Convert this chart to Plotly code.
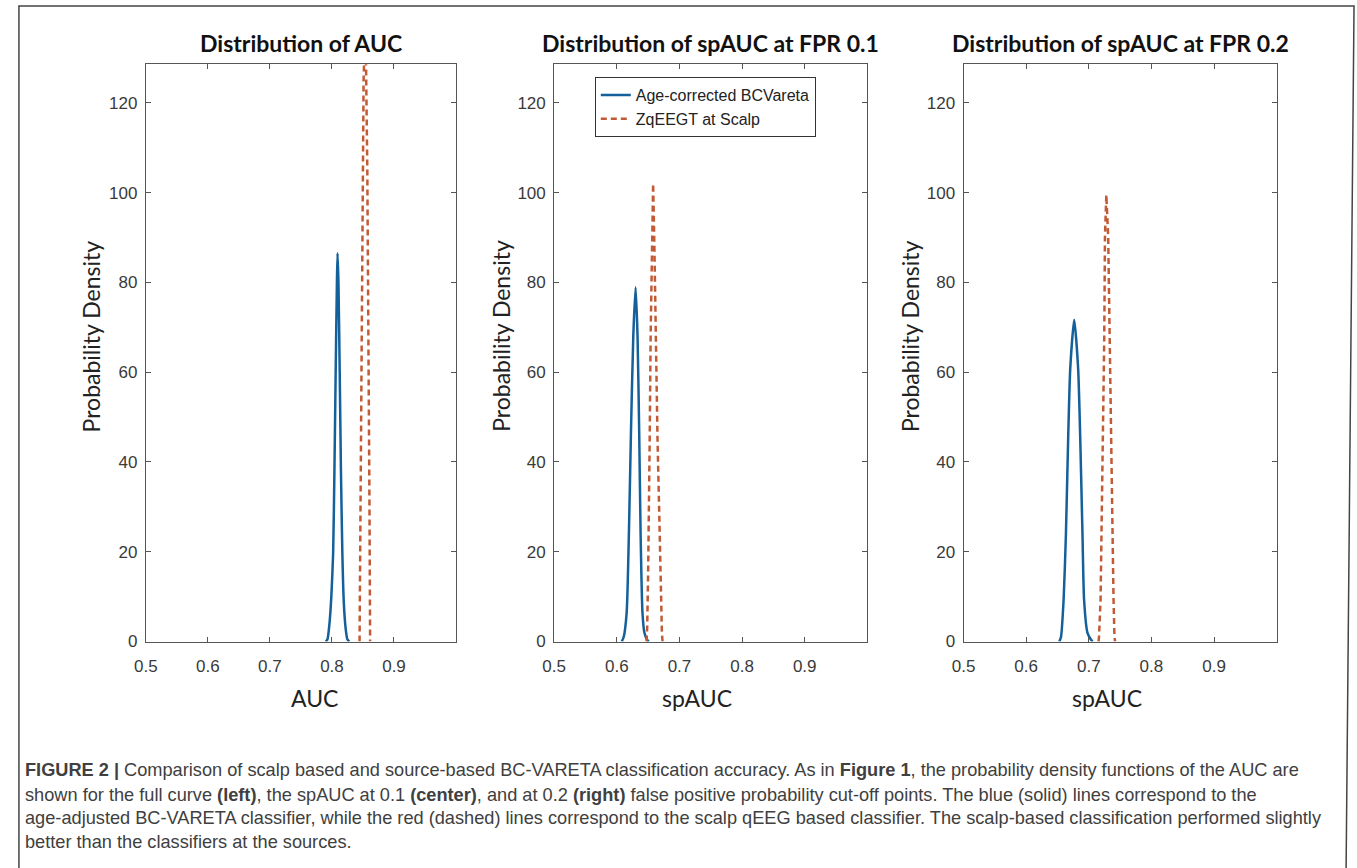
import plotly.graph_objects as go

W, H = 1357, 868

# ---------------- data ----------------
AUC_BLUE_X = [0.790, 0.7928, 0.796, 0.799, 0.8019, 0.804, 0.806, 0.808, 0.809,
              0.8105, 0.8125, 0.8145, 0.8168, 0.819, 0.822, 0.8248, 0.828]
AUC_BLUE_Y = [0, 0.5, 4, 10, 19.6, 38, 60, 80, 86.5, 80, 60, 38, 19.6, 9, 3, 0.5, 0]
AUC_RED_X = [0.8445, 0.8455, 0.847, 0.849, 0.851, 0.853, 0.855, 0.857, 0.859,
             0.8605, 0.8615]
AUC_RED_Y = [0, 20, 60, 100, 125, 135, 128, 105, 70, 30, 0]

FPR1_BLUE_X = [0.608, 0.611, 0.6157, 0.6193, 0.6225, 0.6263, 0.630, 0.6331,
               0.6358, 0.638, 0.641, 0.644, 0.648, 0.651]
FPR1_BLUE_Y = [0, 1, 6.4, 24, 46, 68, 78.9, 68, 46, 24, 6.4, 2, 0.5, 0]
FPR1_RED_X = [0.6475, 0.6485, 0.650, 0.651, 0.6525, 0.654, 0.656, 0.658, 0.660,
              0.662, 0.665, 0.6685, 0.670, 0.672, 0.673]
FPR1_RED_Y = [0, 3, 15, 24, 45, 68, 88, 102, 88, 68, 45, 24, 12, 2, 0]

FPR2_BLUE_X = [0.653, 0.6556, 0.6598, 0.6635, 0.6672, 0.6704, 0.6767, 0.6830,
               0.6862, 0.6899, 0.6925, 0.6978, 0.703, 0.706]
FPR2_BLUE_Y = [0, 1, 9.3, 24, 46, 60.8, 71.7, 60.8, 46, 24, 9.3, 2, 0.5, 0]
FPR2_RED_X = [0.7155, 0.7163, 0.7188, 0.7204, 0.7226, 0.7247, 0.7258, 0.728,
              0.731, 0.7331, 0.7358, 0.7379, 0.7395, 0.741, 0.742]
FPR2_RED_Y = [0, 1, 9.3, 24, 46, 68, 90, 99.5, 90, 68, 46, 24, 9.3, 1, 0]

SERIES_NAMES = ["Age-corrected BCVareta", "ZqEEGT at Scalp"]
TITLES = ["Distribution of AUC", "Distribution of spAUC at FPR 0.1",
          "Distribution of spAUC at FPR 0.2"]
XLABELS = ["AUC", "spAUC", "spAUC"]
YLABEL = "Probability Density"
X_TICKS = [0.5, 0.6, 0.7, 0.8, 0.9]
X_TICKTEXT = ["0.5", "0.6", "0.7", "0.8", "0.9"]
Y_TICKS = [0, 20, 40, 60, 80, 100, 120]
X_RANGE = [0.5, 1.0]
Y_RANGE = [0, 128.6]

CAPTION = [
    "<b>FIGURE 2 |</b> Comparison of scalp based and source-based BC-VARETA classification accuracy. As in <b>Figure 1</b>, the probability density functions of the AUC are",
    "shown for the full curve <b>(left)</b>, the spAUC at 0.1 <b>(center)</b>, and at 0.2 <b>(right)</b> false positive probability cut-off points. The blue (solid) lines correspond to the",
    "age-adjusted BC-VARETA classifier, while the red (dashed) lines correspond to the scalp qEEG based classifier. The scalp-based classification performed slightly",
    "better than the classifiers at the sources.",
]

# ---------------- styling ----------------
BLUE = "#14609a"
RED = "#c25a35"
AXC = "#555555"
TICKFONT = dict(family="Liberation Sans, Arial, sans-serif", size=17, color="#3a3a3a")
LABELFONT = "Lato, Open Sans, sans-serif"

PLOTS_PX = [(135, 448), (547, 863), (960, 1276)]
TOP_PX, BOT_PX = 65, 649
TITLE_CX = [291.5, 705, 1118]
XLAB_CX = [305, 691, 1105]
YLAB_CX = [80, 493, 906]


def px(x):
    return x / W


def py(y):
    return 1 - y / H


fig = go.Figure()

data = [
    (AUC_BLUE_X, AUC_BLUE_Y, AUC_RED_X, AUC_RED_Y),
    (FPR1_BLUE_X, FPR1_BLUE_Y, FPR1_RED_X, FPR1_RED_Y),
    (FPR2_BLUE_X, FPR2_BLUE_Y, FPR2_RED_X, FPR2_RED_Y),
]

for i, (bx, by, rx, ry) in enumerate(data):
    xa = "x" if i == 0 else f"x{i+1}"
    ya = "y" if i == 0 else f"y{i+1}"
    fig.add_trace(go.Scatter(
        x=bx, y=by, mode="lines", name=SERIES_NAMES[0],
        line=dict(color=BLUE, width=2.5, shape="spline", smoothing=0.6),
        xaxis=xa, yaxis=ya, showlegend=(i == 1), legendrank=1))
    fig.add_trace(go.Scatter(
        x=rx, y=ry, mode="lines", name=SERIES_NAMES[1],
        line=dict(color=RED, width=2.5, dash="6px,4px"),
        xaxis=xa, yaxis=ya, showlegend=(i == 1), legendrank=2))

layout = dict(
    width=W, height=H,
    margin=dict(l=0, r=0, t=0, b=0),
    paper_bgcolor="white", plot_bgcolor="white",
    showlegend=True,
    legend=dict(
        x=px(588), y=py(78), xanchor="left", yanchor="top",
        bgcolor="white", bordercolor="#333333", borderwidth=1,
        font=dict(family="Liberation Sans, Arial, sans-serif", size=16, color="#222222"),
        tracegroupgap=0, itemwidth=30,
    ),
)

for i, (x0, x1) in enumerate(PLOTS_PX):
    sfx = "" if i == 0 else str(i + 1)
    layout["xaxis" + sfx] = dict(
        domain=[px(x0), px(x1)], range=X_RANGE, anchor="y" + sfx,
        tickvals=X_TICKS, ticktext=X_TICKTEXT,
        ticks="inside", ticklen=5, tickcolor=AXC, tickwidth=1,
        showline=True, linecolor=AXC, linewidth=1, mirror="ticks",
        showgrid=False, zeroline=False, tickfont=TICKFONT, ticklabelstandoff=9,
        fixedrange=True,
    )
    layout["yaxis" + sfx] = dict(
        domain=[py(BOT_PX), py(TOP_PX)], range=Y_RANGE, anchor="x" + sfx,
        tickvals=Y_TICKS,
        ticks="inside", ticklen=5, tickcolor=AXC, tickwidth=1,
        showline=True, linecolor=AXC, linewidth=1, mirror="ticks",
        showgrid=False, zeroline=False, tickfont=TICKFONT, ticklabelstandoff=4,
        fixedrange=True,
    )

fig.update_layout(**layout)

ann = []
for i in range(3):
    ann.append(dict(text=f"<b>{TITLES[i]}</b>", x=px(TITLE_CX[i]), y=py(44),
                    xref="paper", yref="paper", xanchor="center", yanchor="middle",
                    showarrow=False, font=dict(family=LABELFONT, size=23, color="#111111")))
    ann.append(dict(text=XLABELS[i], x=px(XLAB_CX[i]), y=py(706),
                    xref="paper", yref="paper", xanchor="center", yanchor="middle",
                    showarrow=False, font=dict(family=LABELFONT, size=23, color="#222222")))
    ann.append(dict(text=YLABEL, x=px(YLAB_CX[i]), y=py(340), textangle=-90,
                    xref="paper", yref="paper", xanchor="center", yanchor="middle",
                    showarrow=False, font=dict(family=LABELFONT, size=23, color="#222222")))

CAP_Y = [779, 804, 828, 852]
for line, yy in zip(CAPTION, CAP_Y):
    ann.append(dict(text=line, x=px(11), y=py(yy), xref="paper", yref="paper",
                    xanchor="left", yanchor="middle", showarrow=False, align="left",
                    font=dict(family="Liberation Sans, Arial, sans-serif", size=18.2,
                              color="#404040")))

fig.update_layout(annotations=ann)

# outer frame (slightly skewed, as in the scanned figure)
fig.add_shape(type="path", xref="paper", yref="paper",
              path=f"M {px(7)},{py(880)} L {px(7)},{py(6)} L {px(1354)},{py(6)} L {px(1346)},{py(880)}",
              line=dict(color="#444444", width=1.5))

fig.write_html("out.html")
